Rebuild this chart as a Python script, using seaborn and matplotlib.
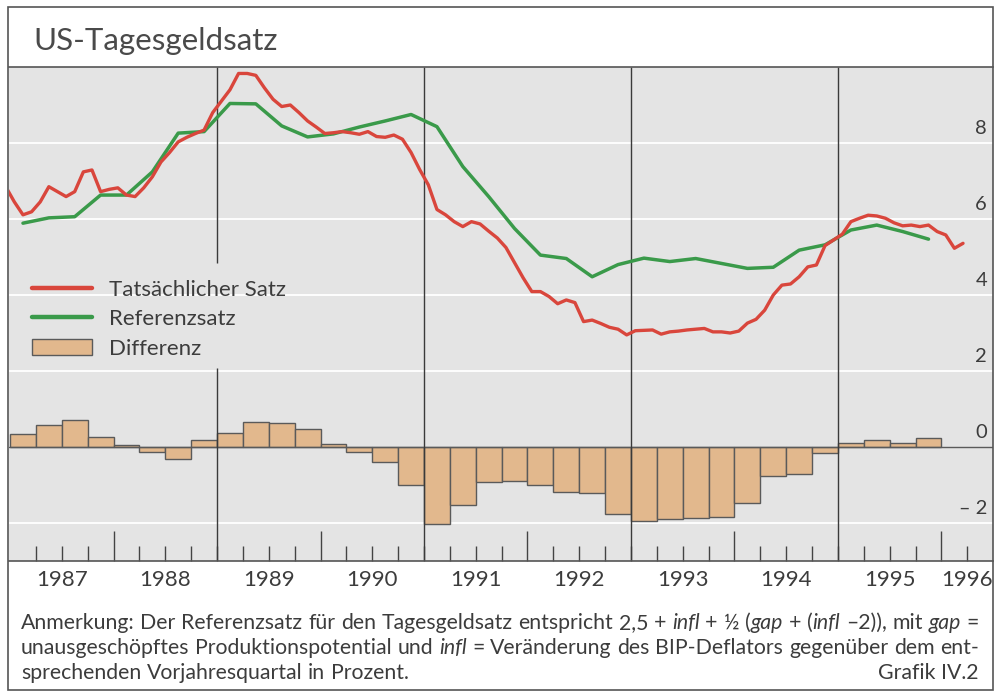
import numpy as np
import pandas as pd
import matplotlib
matplotlib.use("Agg")
import matplotlib.pyplot as plt
import matplotlib.transforms as mtransforms
from matplotlib.lines import Line2D
from matplotlib.patches import Patch, Rectangle
import seaborn as sns

# ---------------- data ----------------
month_start = "1986-12"
month_end = "1996-03"
actual_rate = [
    6.85,
    6.45, 6.11, 6.19, 6.45, 6.85, 6.72, 6.59, 6.72, 7.24, 7.29, 6.72, 6.78,
    6.82, 6.63, 6.59, 6.82, 7.11, 7.50, 7.75, 8.03, 8.15, 8.25, 8.34, 8.80,
    9.10, 9.40, 9.83, 9.83, 9.78, 9.45, 9.15, 8.96, 9.00, 8.80, 8.58, 8.42,
    8.25, 8.27, 8.30, 8.27, 8.23, 8.30, 8.17, 8.15, 8.21, 8.10, 7.75, 7.30,
    6.90, 6.25, 6.11, 5.93, 5.80, 5.93, 5.87, 5.68, 5.50, 5.25, 4.85, 4.45,
    4.09, 4.09, 3.96, 3.77, 3.87, 3.80, 3.30, 3.34, 3.25, 3.15, 3.10, 2.95,
    3.06, 3.07, 3.08, 2.97, 3.03, 3.05, 3.08, 3.10, 3.12, 3.03, 3.03, 3.00,
    3.05, 3.26, 3.36, 3.60, 4.00, 4.26, 4.29, 4.48, 4.74, 4.79, 5.30, 5.45,
    5.60, 5.93, 6.02, 6.10, 6.08, 6.02, 5.90, 5.82, 5.84, 5.80, 5.84, 5.67,
    5.58, 5.23, 5.36,
]

quarter_start = "1987Q1"
quarter_end = "1995Q4"
reference_rate = [
    5.89, 6.03, 6.06, 6.63,
    6.63, 7.24, 8.26, 8.30,
    9.04, 9.03, 8.45, 8.16,
    8.24, 8.42, 8.58, 8.75,
    8.43, 7.38, 6.59, 5.75,
    5.05, 4.96, 4.48, 4.80,
    4.97, 4.88, 4.96, 4.83,
    4.70, 4.73, 5.18, 5.32,
    5.71, 5.84, 5.67, 5.47,
]
difference = [
    0.33, 0.57, 0.72, 0.26,
    0.04, -0.13, -0.31, 0.18,
    0.38, 0.65, 0.62, 0.47,
    0.07, -0.13, -0.39, -1.01,
    -2.03, -1.53, -0.93, -0.90,
    -1.01, -1.18, -1.21, -1.75,
    -1.95, -1.89, -1.87, -1.84,
    -1.47, -0.77, -0.70, -0.16,
    0.11, 0.19, 0.11, 0.25,
]

year_labels = [1987, 1988, 1989, 1990, 1991, 1992, 1993, 1994, 1995, 1996]
ytick_values = [-2, 0, 2, 4, 6, 8]
ytick_labels = ["\u2013 2", "0", "2", "4", "6", "8"]
legend_labels = ["Tatsächlicher Satz", "Referenzsatz", "Differenz"]
title_text = "US-Tagesgeldsatz"

# ---------------- derived tables ----------------
months = pd.period_range(month_start, month_end, freq="M")
df_m = pd.DataFrame({
    "t": [p.year + (p.month - 0.5) / 12 for p in months],
    "rate": actual_rate,
})
quarters = pd.period_range(quarter_start, quarter_end, freq="Q")
df_q = pd.DataFrame({
    "t_mid": [p.year + (p.quarter - 0.5) / 4 for p in quarters],
    "t_start": [p.year + (p.quarter - 1) / 4 for p in quarters],
    "ref": reference_rate,
    "diff": difference,
})

# ---------------- style ----------------
BG = "#e4e4e4"
RED = "#d9463c"
GREEN = "#3a9a4a"
TAN = "#e2b88d"
DARK = "#4a4a4a"
TXT = "#3c3c3c"

sns.set_style("white", {"axes.facecolor": BG})
plt.rcParams["font.family"] = ["Lato", "DejaVu Sans"]

W, H = 994, 693
fig = plt.figure(figsize=(W / 100, H / 100), dpi=100)
fig.patch.set_facecolor("white")
ax = fig.add_axes([9 / W, 1 - 561 / H, (993 - 9) / W, (561 - 67) / H])
ax.set_facecolor(BG)

ax.set_xlim(1986.99, 1996.498)
ax.set_ylim(-3, 10)

# grid
ax.set_yticks([-2, 2, 4, 6, 8])
ax.tick_params(axis="y", length=0, labelleft=False, labelright=False)
ax.grid(axis="y", color="white", linewidth=1.3, zorder=0)
ax.grid(axis="x", visible=False)
ax.set_axisbelow(True)

# bars
ax.bar(df_q["t_start"], df_q["diff"], width=0.25, align="edge",
       color=TAN, edgecolor="#5a5a5a", linewidth=1.0, zorder=2)
ax.axhline(0, color="#5a5a5a", linewidth=1.0, zorder=2.1)

# separators every two years
ax.vlines([1991, 1993, 1995], -3, 10, color="#3a3a3a", linewidth=1.0, zorder=2.5)
ax.vlines([1989, 1989], [-3, 4.85], [2.08, 10], color="#3a3a3a", linewidth=1.0, zorder=2.5)

# lines
sns.lineplot(data=df_q, x="t_mid", y="ref", ax=ax, color=GREEN, linewidth=2.5,
             zorder=3, legend=False)
sns.lineplot(data=df_m, x="t", y="rate", ax=ax, color=RED, linewidth=2.4,
             zorder=3.1, legend=False)
ax.set_xlabel("")
ax.set_ylabel("")

# x ticks (inside, pointing up)
major = [1988, 1990, 1992, 1994, 1996]
minor = [y + q / 4 for y in range(1987, 1997) for q in range(4)
         if 1987 < y + q / 4 < 1996.5 and (y + q / 4) not in major]
ax.set_xticks(major)
ax.set_xticks(minor, minor=True)
ax.tick_params(axis="x", which="major", direction="in", length=21.5, width=1.0,
               color="#444444", bottom=True, top=False, labelbottom=False)
ax.tick_params(axis="x", which="minor", direction="in", length=11, width=1.0,
               color="#444444", bottom=True, top=False, labelbottom=False)

for s in ["left", "right"]:
    ax.spines[s].set_visible(False)
for s in ["top", "bottom"]:
    ax.spines[s].set_visible(True)
    ax.spines[s].set_color("#555555")
    ax.spines[s].set_linewidth(1.2)

# year labels
btrans = mtransforms.blended_transform_factory(ax.transData, fig.transFigure)
for yv in year_labels:
    xc = yv + 0.5 if yv < 1996 else yv + 0.25
    ax.text(xc, 1 - 586 / H, str(yv), transform=btrans, ha="center",
            va="baseline", fontsize=16, color=TXT, clip_on=False)

# y labels on the right, above their gridlines
ytrans = mtransforms.blended_transform_factory(ax.transAxes, ax.transData)
off = mtransforms.ScaledTranslation(0, 15 / 100, fig.dpi_scale_trans)
for v, lab in zip(ytick_values, ytick_labels):
    ax.text(0.994, v, lab, transform=ytrans + off, ha="right", va="center",
            fontsize=14.5, color=TXT)

# legend
handles = [
    Line2D([0], [0], color=RED, linewidth=3.2),
    Line2D([0], [0], color=GREEN, linewidth=3.2),
    Patch(facecolor=TAN, edgecolor="#5a5a5a", linewidth=1.0),
]
leg = ax.legend(handles, legend_labels, loc="upper left",
                bbox_to_anchor=(0.0234, 0.569), frameon=False, fontsize=16,
                handlelength=2.7, handletextpad=0.75, labelspacing=0.42,
                borderpad=0, borderaxespad=0)
for t in leg.get_texts():
    t.set_color(TXT)

# title and frame
fig.text(33 / W, 1 - 50 / H, title_text, fontsize=22.5, color="#4a4a4a",
         ha="left", va="baseline")
fig.add_artist(Rectangle((8 / W, 1 - 690 / H), (993 - 8) / W, (690 - 7) / H,
                         transform=fig.transFigure, fill=False,
                         edgecolor="#555555", linewidth=1.2))

# note text (justified, with italic symbols)
renderer = fig.canvas.get_renderer()


def place_line(words, x0, x1, ybase, size, justify=True):
    groups = []
    for word in words:
        segs = []
        for txt, it in word:
            t = fig.text(0, 1 - ybase / H, txt, fontsize=size, color=TXT,
                         style="italic" if it else "normal",
                         ha="left", va="baseline")
            segs.append(t)
        groups.append(segs)
    widths = [[t.get_window_extent(renderer).width for t in segs] for segs in groups]
    total = sum(sum(w) for w in widths)
    if justify and len(groups) > 1:
        gap = (x1 - x0 - total) / (len(groups) - 1)
    else:
        gap = size * 100 / 72 * 0.26
    x = x0
    for segs, ws in zip(groups, widths):
        for t, w in zip(segs, ws):
            t.set_x(x / W)
            x += w
        x += gap


R = False
I = True
line1 = [
    [("Anmerkung:", R)], [("Der", R)], [("Referenzsatz", R)], [("für", R)],
    [("den", R)], [("Tagesgeldsatz", R)], [("entspricht", R)], [("2,5", R)],
    [("+", R)], [("infl", I)], [("+", R)], [("\u00bd", R)],
    [("(", R), ("gap", I)], [("+", R)], [("(", R), ("infl", I)],
    [("\u20132)),", R)], [("mit", R)], [("gap", I)], [("=", R)],
]
line2 = [
    [("unausgeschöpftes", R)], [("Produktionspotential", R)], [("und", R)],
    [("infl", I)], [("=", R)], [("Veränderung", R)], [("des", R)],
    [("BIP-Deflators", R)], [("gegenüber", R)], [("dem", R)], [("ent-", R)],
]
line3 = [[("sprechenden", R)], [("Vorjahresquartal", R)], [("in", R)], [("Prozent.", R)]]

NOTE_SIZE = 15.3
place_line(line1, 21, 979, 629, NOTE_SIZE)
place_line(line2, 21, 979, 654, NOTE_SIZE)
place_line(line3, 21, 979, 679, NOTE_SIZE, justify=False)
fig.text(978 / W, 1 - 679 / H, "Grafik IV.2", fontsize=NOTE_SIZE, color=TXT,
         ha="right", va="baseline")

fig.savefig("out.png", dpi=100)
